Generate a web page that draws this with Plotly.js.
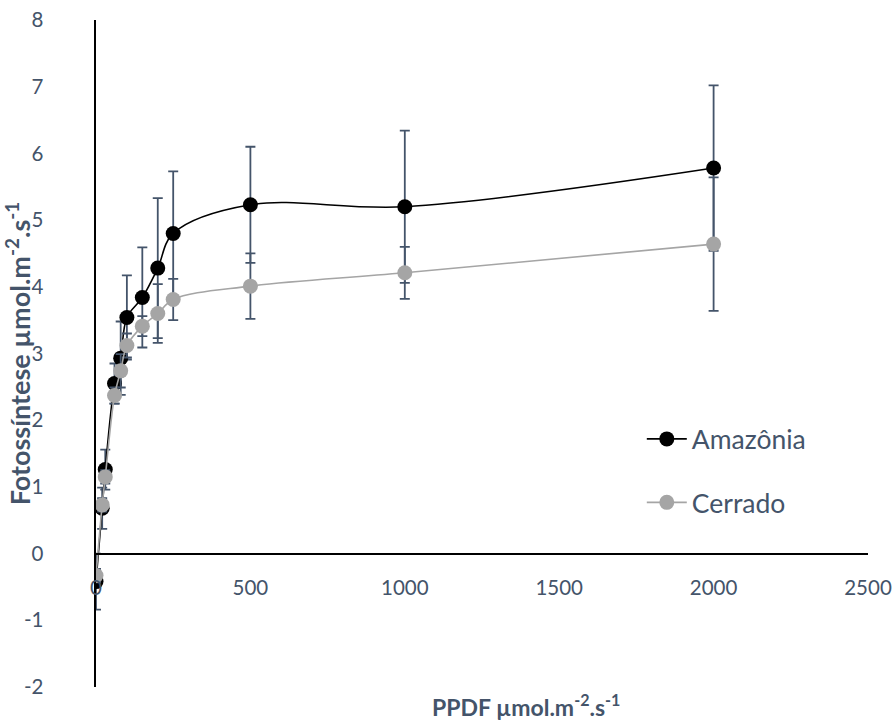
<!DOCTYPE html>
<html>
<head>
<meta charset="utf-8">
<script src="https://cdn.plot.ly/plotly-3.0.1.min.js"></script>
<style>html,body{margin:0;padding:0;background:#fff;}#chart{width:896px;height:724px;}</style>
</head>
<body>
<div id="chart"></div>
<script>
const ppfd = [0, 20, 30, 60, 80, 100, 150, 200, 250, 500, 1000, 2000];
const amazonia = [-0.42, 0.68, 1.26, 2.55, 2.93, 3.54, 3.84, 4.28, 4.80, 5.23, 5.20, 5.78];
const amazoniaErr = [0.42, 0.31, 0.30, 0.30, 0.55, 0.63, 0.75, 1.05, 0.93, 0.87, 1.14, 1.24];
const cerrado = [-0.33, 0.73, 1.15, 2.37, 2.74, 3.12, 3.41, 3.60, 3.81, 4.01, 4.21, 4.64];
const cerradoErr = [0.10, 0.10, 0.10, 0.12, 0.25, 0.18, 0.15, 0.44, 0.31, 0.49, 0.39, 1.00];
const seriesNames = ['Amazônia', 'Cerrado'];
const xTickVals = [0, 500, 1000, 1500, 2000, 2500];
const xTickText = ['0', '500', '1000', '1500', '2000', '2500'];
const yTickVals = [-2, -1, 0, 1, 2, 3, 4, 5, 6, 7, 8];
const yTickText = ['-2', '-1', '0', '1', '2', '3', '4', '5', '6', '7', '8'];

const textColor = '#44546A';
const errColor = '#44546A';
const font = 'Lato, "Open Sans", sans-serif';

const traces = [
  {
    x: ppfd, y: amazonia, name: seriesNames[0], type: 'scatter', mode: 'lines+markers',
    line: {color: '#000000', width: 1.6, shape: 'spline', smoothing: 1},
    marker: {color: '#000000', size: 15},
    error_y: {type: 'data', array: amazoniaErr, visible: true, color: errColor, thickness: 1.8, width: 5},
    legendgroup: 'a'
  },
  {
    x: ppfd, y: cerrado, name: seriesNames[1], type: 'scatter', mode: 'lines+markers',
    line: {color: '#A5A5A5', width: 1.6, shape: 'spline', smoothing: 1},
    marker: {color: '#A5A5A5', size: 15},
    error_y: {type: 'data', array: cerradoErr, visible: true, color: errColor, thickness: 1.8, width: 5},
    legendgroup: 'c'
  }
];

const layout = {
  width: 896, height: 724,
  margin: {l: 96, r: 28, t: 20, b: 37},
  paper_bgcolor: '#ffffff', plot_bgcolor: '#ffffff',
  font: {family: font, color: textColor, size: 20},
  showlegend: true,
  legend: {
    x: 0.707, xanchor: 'left', y: 0.4075, yanchor: 'top',
    font: {family: font, size: 26.5, color: textColor},
    bgcolor: 'rgba(0,0,0,0)', tracegroupgap: 26, traceorder: 'grouped',
    itemwidth: 40
  },
  xaxis: {
    range: [0, 2500], tickmode: 'array', tickvals: xTickVals, ticktext: xTickText,
    ticks: '', showgrid: false, zeroline: false,
    showline: true, linecolor: '#000000', linewidth: 2.5,
    anchor: 'free', position: 0.2,
    tickfont: {family: font, size: 20.5, color: textColor},
    ticklabelstandoff: 15
  },
  yaxis: {
    range: [-2, 8], tickmode: 'array', tickvals: yTickVals, ticktext: yTickText,
    ticks: '', showgrid: false, zeroline: false,
    showline: true, linecolor: '#000000', linewidth: 2.5,
    tickfont: {family: font, size: 20.5, color: textColor},
    ticklabelstandoff: 46,
    title: {text: '<b>Fotossíntese µmol.m<sup>-2</sup>.s<sup>-1</sup></b>', font: {family: font, size: 27, color: textColor}, standoff: 6}
  },
  annotations: [{
    xref: 'paper', yref: 'paper', x: (526 - 96) / 772, y: -0.027, xanchor: 'center', yanchor: 'middle',
    text: '<b>PPDF µmol.m<sup>-2</sup>.s<sup>-1</sup></b>', showarrow: false,
    font: {family: font, size: 23, color: textColor}
  }]
};

Plotly.newPlot('chart', traces, layout, {displayModeBar: false, staticPlot: true});
</script>
</body>
</html>
